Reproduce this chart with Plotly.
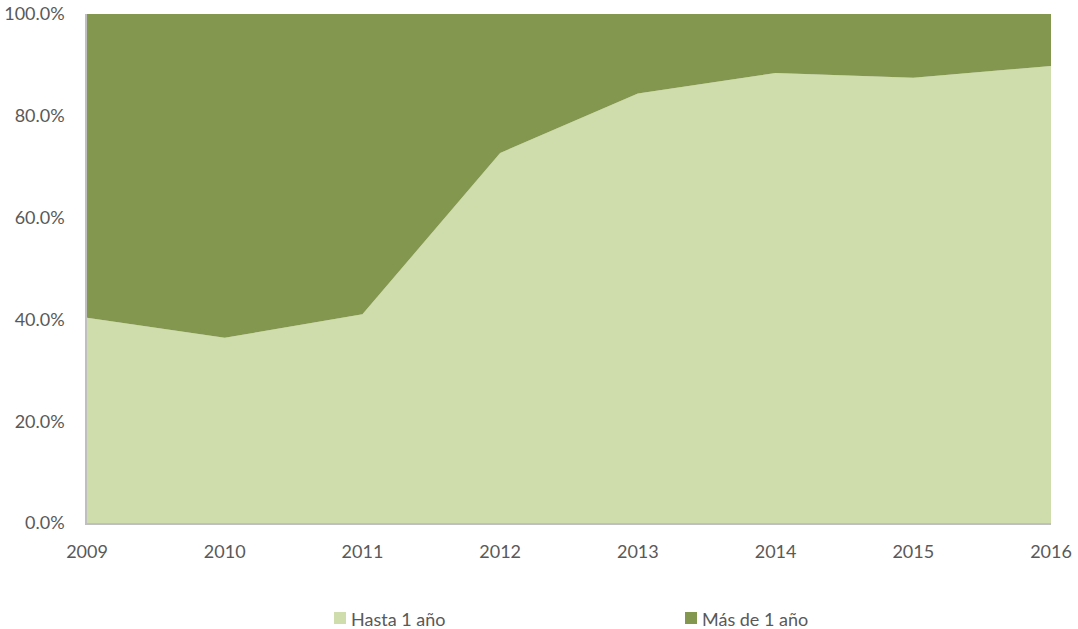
import plotly.graph_objects as go

years = [2009, 2010, 2011, 2012, 2013, 2014, 2015, 2016]
hasta_1_anio = [40.3, 36.4, 41.0, 72.7, 84.4, 88.4, 87.5, 89.8]
mas_de_1_anio = [59.7, 63.6, 59.0, 27.3, 15.6, 11.6, 12.5, 10.2]
series_names = ["Hasta 1 año", "Más de 1 año"]
y_ticks = [0, 20, 40, 60, 80, 100]
y_tick_labels = ["0.0%", "20.0%", "40.0%", "60.0%", "80.0%", "100.0%"]

light = "#CFDCAB"
dark = "#84974F"
font_family = "Lato, 'Open Sans', sans-serif"
tick_color = "#595959"

W, H = 1078, 629
ML, MR, MT, MB = 87, 27, 14, 106
PW, PH = W - ML - MR, H - MT - MB


def px_x(p):
    return (p - ML) / PW


def px_y(p):
    return (H - MB - p) / PH


fig = go.Figure()
fig.add_trace(go.Scatter(x=years, y=hasta_1_anio, name=series_names[0], mode="none",
                         stackgroup="one", fillcolor=light, showlegend=False))
fig.add_trace(go.Scatter(x=years, y=mas_de_1_anio, name=series_names[1], mode="none",
                         stackgroup="one", fillcolor=dark, showlegend=False))

# manual legend
legend_items = [(334, light, series_names[0]), (685, dark, series_names[1])]
for lx, col, name in legend_items:
    fig.add_shape(type="rect", xref="paper", yref="paper",
                  x0=px_x(lx), x1=px_x(lx + 12), y0=px_y(624), y1=px_y(612),
                  fillcolor=col, line=dict(width=0))
    fig.add_annotation(xref="paper", yref="paper", x=px_x(lx + 15), y=px_y(619),
                       text=name, showarrow=False, xanchor="left", yanchor="middle",
                       font=dict(size=18, color=tick_color, family=font_family))

fig.update_layout(
    width=W, height=H,
    margin=dict(l=ML, r=MR, t=MT, b=MB, autoexpand=False),
    paper_bgcolor="white", plot_bgcolor="white",
    font=dict(family=font_family, size=18, color=tick_color),
    showlegend=False,
)
fig.update_xaxes(range=[2009, 2016], tickmode="array", tickvals=years,
                 ticktext=[str(y) for y in years], showgrid=False, zeroline=False,
                 showline=True, linecolor="#BFBFBF", linewidth=1.5,
                 ticks="outside", ticklen=12, tickcolor="rgba(0,0,0,0)",
                 automargin=False, ticklabeloverflow="allow")
fig.update_yaxes(range=[0, 100], tickmode="array", tickvals=y_ticks,
                 ticktext=y_tick_labels, showgrid=False, zeroline=False,
                 showline=True, linecolor="#BFBFBF", linewidth=1.5,
                 ticks="outside", ticklen=17, tickcolor="rgba(0,0,0,0)",
                 automargin=False, ticklabeloverflow="allow")

fig.write_html("out.html",
               config={"displayModeBar": False},
               post_script="document.body.style.margin='0';document.body.style.overflow='hidden';")
